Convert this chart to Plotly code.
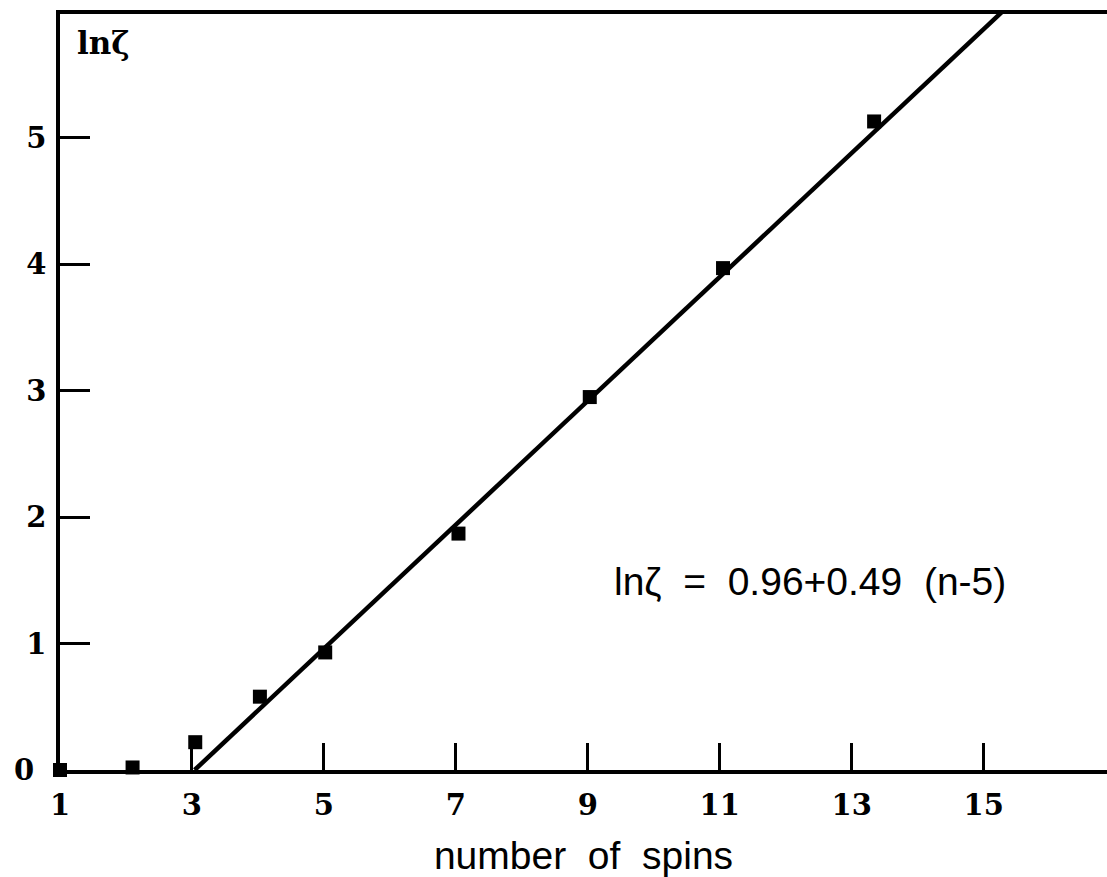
import plotly.graph_objects as go

# measured points: number of spins vs ln(zeta)
spins = [1.0, 2.1, 3.05, 4.03, 5.02, 7.04, 9.03, 11.05, 13.34]
ln_zeta = [0.0, 0.02, 0.22, 0.58, 0.93, 1.87, 2.95, 3.97, 5.13]

# linear fit ln(zeta) = a + b (n - n0)
fit_a = 0.96
fit_b = 0.49
fit_n0 = 5

x_ticks = [1, 3, 5, 7, 9, 11, 13, 15]
y_ticks = [1, 2, 3, 4, 5]

x_range = [1, 16.87]
y_range = [0, 5.98]

# fit line from its zero crossing up past the top of the frame
n_start = fit_n0 - fit_a / fit_b
n_end = fit_n0 + (y_range[1] + 0.5 - fit_a) / fit_b
fit_x = [n_start, n_end]
fit_y = [fit_a + fit_b * (n - fit_n0) for n in fit_x]

fig = go.Figure()
fig.add_trace(go.Scatter(
    x=fit_x, y=fit_y, mode="lines",
    line=dict(color="black", width=4.5),
    hoverinfo="skip", showlegend=False,
))
fig.add_trace(go.Scatter(
    x=spins, y=ln_zeta, mode="markers",
    marker=dict(symbol="square", size=14, color="black"),
    showlegend=False, cliponaxis=False,
))

serif_bold = dict(family="DejaVu Serif", size=29, color="black")

fig.update_layout(
    width=1107, height=877,
    margin=dict(l=60, r=0, t=14, b=107),
    paper_bgcolor="white", plot_bgcolor="white",
    xaxis=dict(
        range=x_range, tickvals=x_ticks, ticktext=[f"<b>{t}</b>" for t in x_ticks],
        ticks="inside", ticklen=27, tickwidth=3, tickcolor="black",
        showline=True, linecolor="black", linewidth=3.5, mirror=True,
        showgrid=False, zeroline=False,
        tickfont=serif_bold, ticklabelstandoff=6,
        title=dict(text="number  of  spins",
                   font=dict(family="Liberation Sans", size=39, color="black"),
                   standoff=22),
    ),
    yaxis=dict(
        range=y_range, tickvals=y_ticks, ticktext=[f"<b>{t}</b>" for t in y_ticks],
        ticks="inside", ticklen=30, tickwidth=3, tickcolor="black",
        showline=True, linecolor="black", linewidth=3.5, mirror=False,
        showgrid=False, zeroline=False,
        tickfont=serif_bold, ticklabelstandoff=4,
    ),
    annotations=[
        dict(text="<b>0</b>", xref="paper", yref="y", x=-0.034, y=0,
             xanchor="center", yanchor="middle", showarrow=False,
             font=serif_bold),
        dict(text="<b>lnζ</b>", xref="paper", yref="paper", x=0.014, y=0.962,
             xanchor="left", yanchor="middle", showarrow=False,
             font=dict(family="DejaVu Serif", size=31, color="black")),
        dict(text=f"lnζ  =  {fit_a:.2f}+{fit_b:.2f}  (n-{fit_n0})",
             xref="paper", yref="y", x=0.527, y=1.49,
             xanchor="left", yanchor="middle", showarrow=False,
             font=dict(family="Liberation Sans", size=39, color="black")),
    ],
)

fig.write_html("out.html")
